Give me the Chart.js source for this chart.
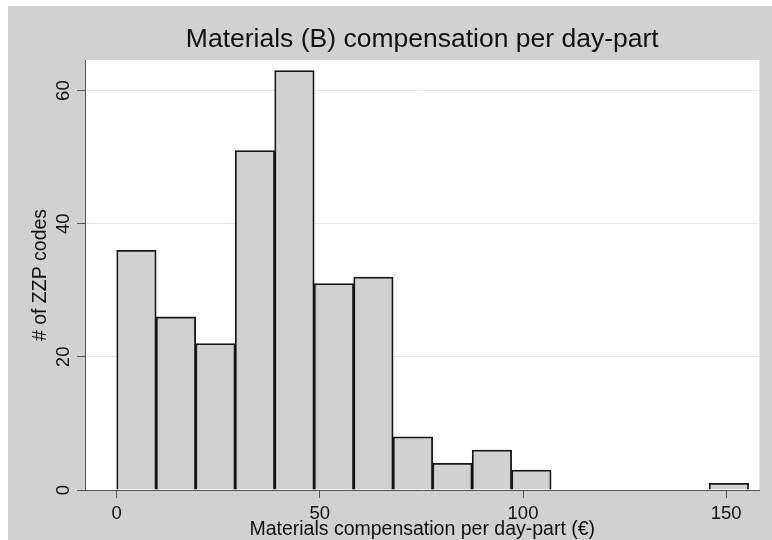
<!DOCTYPE html>
<html>
<head>
<meta charset="utf-8">
<script src="https://cdn.jsdelivr.net/npm/chart.js@4"></script>
<style>
  html, body { margin: 0; padding: 0; background: #ffffff; overflow: hidden; }
  #frame {
    position: absolute; left: 8px; top: 6px;
    width: 764px; height: 534px;
    background: #d1d1d1; overflow: hidden;
  }
  #myChart { display: block; }
</style>
</head>
<body>
<div id="frame"><canvas id="myChart" width="764" height="550"></canvas></div>
<script>
// histogram data
var binStart = 0;
var binWidth = 9.72;
var counts = [36, 26, 22, 51, 63, 31, 32, 8, 4, 6, 3, 0, 0, 0, 0, 1];

// axis ticks
var xTicks = [0, 50, 100, 150];
var yTicks = [0, 20, 40, 60];

var titleText = 'Materials (B) compensation per day-part';
var xTitle = 'Materials compensation per day-part (€)';
var yTitle = '# of ZZP codes';

// bar centres built from the bin edges
var points = counts.map(function(c, i) {
  return { x: binStart + (i + 0.5) * binWidth, y: c };
});

var FONT = "'Liberation Sans', Arial, sans-serif";
var TEXT = '#111111';
var AXIS = '#555555';

// white plot region on the grey graph background
var plotBg = {
  id: 'plotBg',
  beforeDraw: function(chart) {
    var a = chart.chartArea;
    var ctx = chart.ctx;
    ctx.save();
    ctx.fillStyle = '#ffffff';
    ctx.fillRect(a.left, a.top, a.right - a.left, a.bottom - a.top);
    ctx.restore();
  }
};

const config = {
  type: 'bar',
  data: {
    datasets: [{
      label: 'count',
      data: points,
      backgroundColor: '#d1d1d1',
      borderColor: '#161616',
      borderWidth: 1.8,
      barPercentage: 1.0,
      categoryPercentage: 1.0
    }]
  },
  plugins: [plotBg],
  options: {
    responsive: false,
    animation: false,
    layout: { padding: { left: 0, right: 12.5, top: 0, bottom: 6 } },
    plugins: {
      legend: { display: false },
      tooltip: { enabled: false },
      title: {
        display: true,
        text: titleText,
        fullSize: false,
        color: TEXT,
        font: { family: FONT, size: 26.5, weight: 'normal' },
        padding: { top: 17.8, bottom: 4.4 }
      }
    },
    scales: {
      x: {
        type: 'linear',
        min: -7.8,
        max: 158.2,
        offset: false,
        afterFit: function(scale) { scale.height = 60; },
        afterBuildTicks: function(scale) {
          scale.ticks = xTicks.map(function(v) { return { value: v }; });
        },
        ticks: {
          color: TEXT,
          font: { family: FONT, size: 18.5 },
          padding: 4.9,
          maxRotation: 0,
          autoSkip: false
        },
        grid: {
          offset: false,
          drawOnChartArea: false,
          drawTicks: true,
          tickLength: 8,
          tickColor: AXIS
        },
        border: { display: true, color: AXIS, width: 1 },
        title: {
          display: true,
          text: xTitle,
          color: TEXT,
          font: { family: FONT, size: 19.5 },
          padding: { top: 0, bottom: 8.6 }
        }
      },
      y: {
        min: 0,
        max: 64.6,
        afterFit: function(scale) { scale.width = 77; },
        afterBuildTicks: function(scale) {
          scale.ticks = yTicks.map(function(v) { return { value: v }; });
        },
        ticks: {
          color: TEXT,
          font: { family: FONT, size: 18.5 },
          padding: 3.2,
          minRotation: 90,
          maxRotation: 90,
          crossAlign: 'center',
          autoSkip: false
        },
        grid: {
          color: '#e3edf0',
          lineWidth: 1,
          drawTicks: true,
          tickLength: 8,
          tickColor: AXIS
        },
        border: { display: true, color: AXIS, width: 1 },
        title: {
          display: true,
          text: yTitle,
          color: TEXT,
          font: { family: FONT, size: 19.5 },
          padding: { top: 20.8, bottom: 0 }
        }
      }
    }
  }
};

const myChart = new Chart(document.getElementById('myChart'), config);
</script>
</body>
</html>
